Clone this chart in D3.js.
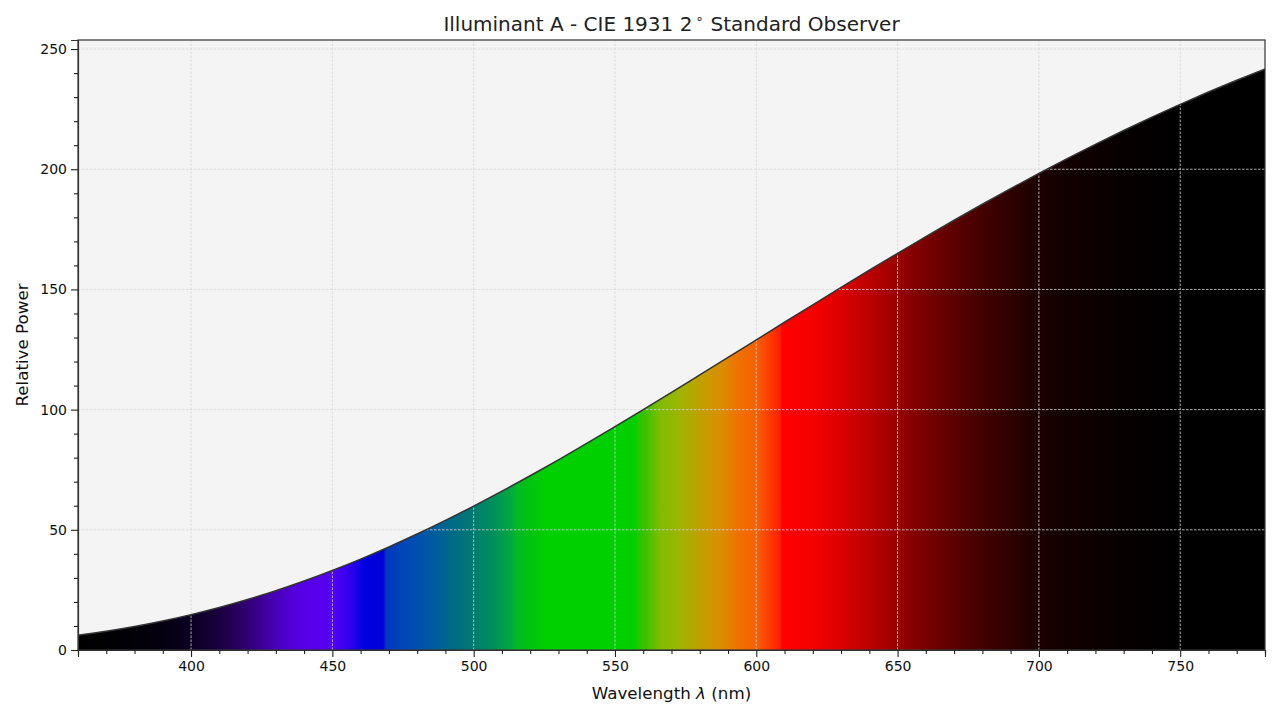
<!DOCTYPE html>
<html>
<head>
<meta charset="utf-8">
<script src="https://cdn.jsdelivr.net/npm/d3@7"></script>
<style>
  body { margin: 0; background: #fff; }
  svg { display: block; font-family: "DejaVu Sans", sans-serif; }
</style>
</head>
<body>
<div id="chart"></div>
<script>
// CIE Illuminant A relative spectral power, 10 nm steps
const wavelengths = [360, 370, 380, 390, 400, 410, 420, 430, 440, 450, 460, 470, 480, 490, 500,
  510, 520, 530, 540, 550, 560, 570, 580, 590, 600, 610, 620, 630, 640, 650, 660, 670, 680,
  690, 700, 710, 720, 730, 740, 750, 760, 770, 780];
const power = [6.14, 7.82, 9.80, 12.09, 14.71, 17.68, 21.00, 24.67, 28.70, 33.09, 37.81, 42.87,
  48.24, 53.91, 59.86, 66.06, 72.50, 79.13, 85.95, 92.91, 100.00, 107.18, 114.44, 121.73,
  129.04, 136.35, 143.62, 150.84, 157.98, 165.03, 171.96, 178.77, 185.43, 191.93, 198.26,
  204.41, 210.37, 216.12, 221.67, 227.00, 232.12, 237.01, 241.68];

// spectrum colours under the curve
const stopWavelengths = [360, 380, 390, 400, 410, 417, 424, 431, 438, 446, 450, 455, 459, 461,
  468, 469, 478, 485, 492, 500, 507, 513, 515, 520, 526, 557, 558, 561, 566, 573, 580, 587,
  594, 600, 605, 608.5, 609, 620, 630, 640, 650, 660, 670, 680, 690, 700, 710, 720, 730, 740,
  750, 780];
const stopColors = ['#000000', '#020008', '#050012', '#0b0022', '#1a0040', '#2a0060', '#3a0090',
  '#4c00c0', '#5500e0', '#5800f0', '#5200f0', '#3a00f0', '#1800e8', '#0000e0', '#0000d8',
  '#0038c0', '#004cb4', '#005aa0', '#006a88', '#007a70', '#00905a', '#00a840', '#00b828',
  '#00c410', '#00d000', '#00d000', '#20c800', '#40c000', '#80bc00', '#a0b400', '#c0a000',
  '#d89000', '#f07000', '#f86000', '#ff3800', '#ff2000', '#ff0000', '#f60000', '#dc0000',
  '#bc0000', '#980000', '#780000', '#5c0000', '#440000', '#300000', '#1c0000', '#120000',
  '#0c0000', '#070000', '#030000', '#000000', '#000000'];

const xTicks = [400, 450, 500, 550, 600, 650, 700, 750];
const yTicks = [0, 50, 100, 150, 200, 250];

const width = 1280;
const height = 720;
const margin = { top: 40, right: 15, bottom: 70, left: 78 };

const svg = d3.select('#chart').append('svg')
  .attr('width', width)
  .attr('height', height);

const x = d3.scaleLinear()
  .domain([360, 780])
  .range([margin.left, width - margin.right]);

const y = d3.scaleLinear()
  .domain([0, d3.max(power) * 1.05])
  .range([height - margin.bottom, margin.top]);

const data = wavelengths.map((w, i) => ({ w, v: power[i] }));

// plot background
svg.append('rect')
  .attr('x', x(360))
  .attr('y', y.range()[1])
  .attr('width', x(780) - x(360))
  .attr('height', y.range()[0] - y.range()[1])
  .attr('fill', '#f4f4f4');

const grad = svg.append('defs').append('linearGradient')
  .attr('id', 'spectrum')
  .attr('gradientUnits', 'userSpaceOnUse')
  .attr('x1', x(360)).attr('x2', x(780))
  .attr('y1', 0).attr('y2', 0);

const offset = d3.scaleLinear().domain([360, 780]).range([0, 1]);
grad.selectAll('stop')
  .data(stopWavelengths)
  .join('stop')
  .attr('offset', d => offset(d))
  .attr('stop-color', (d, i) => stopColors[i]);

const area = d3.area()
  .x(d => x(d.w))
  .y0(y(0))
  .y1(d => y(d.v))
  .curve(d3.curveMonotoneX);

svg.append('path')
  .datum(data)
  .attr('d', area)
  .attr('fill', 'url(#spectrum)');

// grid
const grid = svg.append('g')
  .attr('stroke', '#d6d6d6')
  .attr('stroke-width', 0.8)
  .attr('stroke-dasharray', '2.5,1.5');

grid.selectAll('.gx')
  .data(xTicks)
  .join('line')
  .attr('x1', d => x(d)).attr('x2', d => x(d))
  .attr('y1', y.range()[0]).attr('y2', y.range()[1]);

grid.selectAll('.gy')
  .data(yTicks.filter(d => d > 0))
  .join('line')
  .attr('x1', x(360)).attr('x2', x(780))
  .attr('y1', d => y(d)).attr('y2', d => y(d));

const line = d3.line()
  .x(d => x(d.w))
  .y(d => y(d.v))
  .curve(d3.curveMonotoneX);

svg.append('path')
  .datum(data)
  .attr('d', line)
  .attr('fill', 'none')
  .attr('stroke', '#333')
  .attr('stroke-width', 1.5);

// frame
svg.append('rect')
  .attr('x', x(360))
  .attr('y', y.range()[1])
  .attr('width', x(780) - x(360))
  .attr('height', y.range()[0] - y.range()[1])
  .attr('fill', 'none')
  .attr('stroke', '#333')
  .attr('stroke-width', 1.2);

// axes
svg.append('g')
  .attr('transform', `translate(0,${y(0)})`)
  .call(d3.axisBottom(x).tickValues(xTicks).tickSize(7).tickPadding(4));

svg.append('g')
  .attr('transform', `translate(0,${y(0)})`)
  .call(d3.axisBottom(x).tickValues(d3.range(360, 781, 10).filter(d => d % 50 !== 0))
    .tickSize(4).tickFormat(''))
  .call(g => g.select('.domain').remove());

svg.append('g')
  .attr('transform', `translate(${x(360)},0)`)
  .call(d3.axisLeft(y).tickValues(yTicks).tickSize(7).tickPadding(4));

svg.append('g')
  .attr('transform', `translate(${x(360)},0)`)
  .call(d3.axisLeft(y).tickValues(d3.range(0, 251, 10).filter(d => d % 50 !== 0))
    .tickSize(4).tickFormat(''))
  .call(g => g.select('.domain').remove());

svg.selectAll('.domain').attr('stroke', '#333').attr('stroke-width', 1.2);
svg.selectAll('.tick line').attr('stroke', '#222').attr('stroke-width', 1.1);
svg.selectAll('.tick text')
  .attr('font-family', '"DejaVu Sans", sans-serif')
  .attr('font-size', 14)
  .attr('fill', '#111');

// labels
const title = svg.append('text')
  .attr('x', (x(360) + x(780)) / 2)
  .attr('y', 31)
  .attr('text-anchor', 'middle')
  .attr('font-size', 20)
  .attr('fill', '#222');
title.append('tspan').text('Illuminant A - CIE 1931 2');
title.append('tspan').attr('font-size', 13).attr('dy', -8).attr('dx', 3).text('∘');
title.append('tspan').attr('dy', 8).attr('dx', 7).text('Standard Observer');

const xLabel = svg.append('text')
  .attr('x', (x(360) + x(780)) / 2)
  .attr('y', 699)
  .attr('text-anchor', 'middle')
  .attr('font-size', 16.7)
  .attr('fill', '#111');
xLabel.append('tspan').text('Wavelength ');
xLabel.append('tspan').attr('font-style', 'italic').text('λ');
xLabel.append('tspan').text(' (nm)');

svg.append('text')
  .attr('transform', `translate(28,${(y.range()[0] + y.range()[1]) / 2}) rotate(-90)`)
  .attr('text-anchor', 'middle')
  .attr('font-size', 16.7)
  .attr('fill', '#111')
  .text('Relative Power');
</script>
</body>
</html>
